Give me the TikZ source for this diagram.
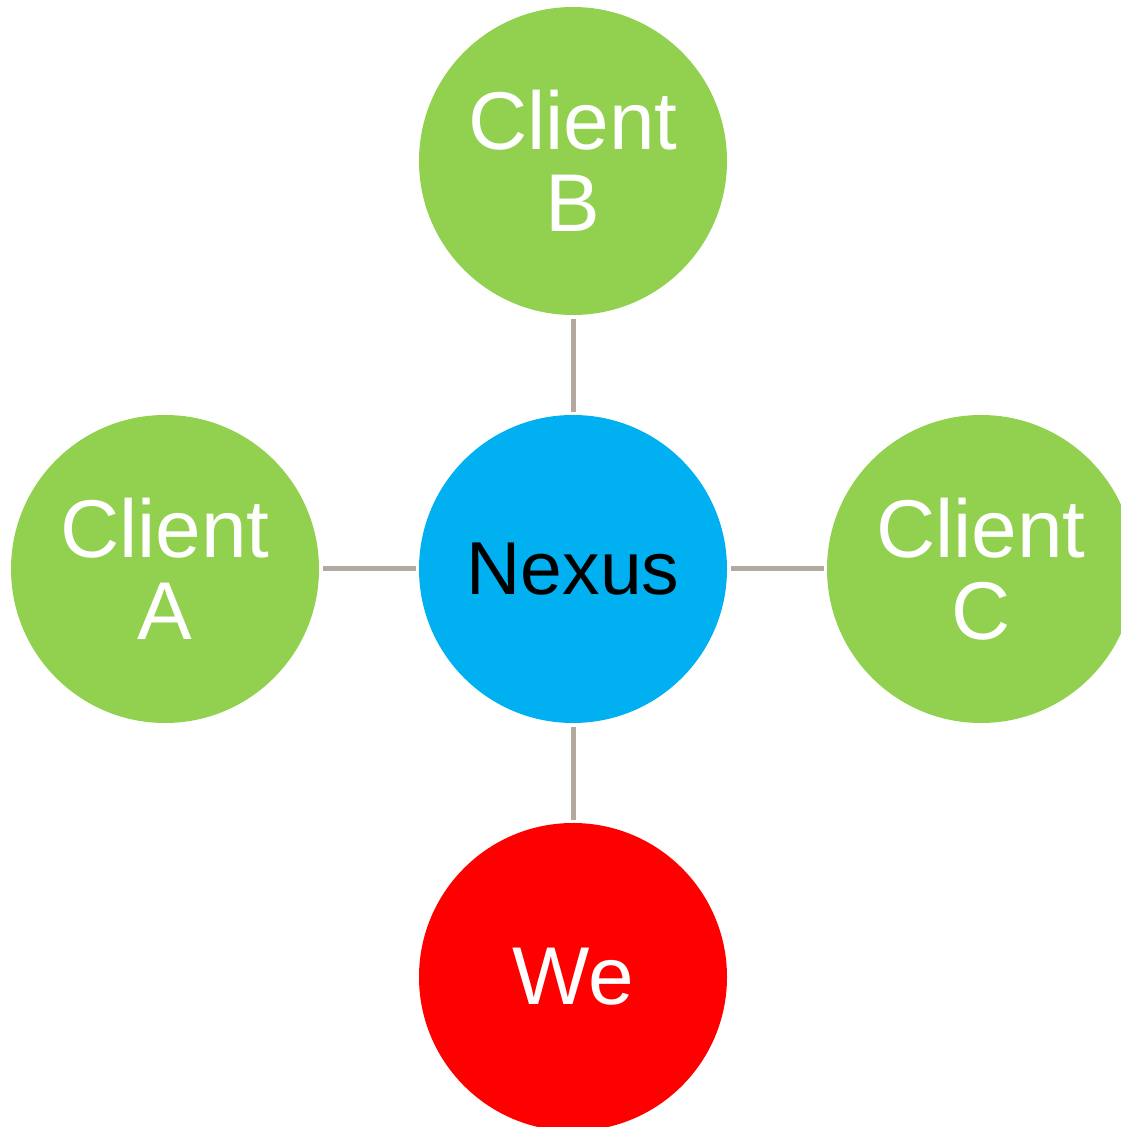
\documentclass[tikz,border=0pt]{standalone}
\usepackage{fontspec}
\setmainfont{Liberation Sans}
\definecolor{clientgreen}{RGB}{146,208,80}
\definecolor{nexusblue}{RGB}{0,176,240}
\definecolor{linkgray}{RGB}{178,170,160}
\tikzset{
  bubble/.style={circle, minimum size=308pt, inner sep=0pt, align=center,
    font=\fontsize{82}{84}\selectfont},
  client/.style={bubble, fill=clientgreen, text=white},
  link/.style={linkgray, line width=5pt, shorten >=3pt, shorten <=4pt}
}
\begin{document}
\begin{tikzpicture}[x=1pt,y=1pt]
        % Cornice della figura
        \useasboundingbox (0,0) rectangle (1120,1127);

        % Cerchio centrale
        \node[bubble, fill=nexusblue, text=black, font=\fontsize{75}{80}\selectfont] (nexus) at (573,558) {Nexus};

        % Clienti attorno
        \node[client] (clientB) at (573,966) {Client\\[-2pt]B};
        \node[client] (clientA) at (165,558) {Client\\[-2pt]A};
        \node[client] (clientC) at (981,558) {Client\\[-2pt]C};

        % Noi, in basso
        \node[bubble, fill=red, text=white] (we) at (573,150) {We};

        % Collegamenti
        \draw[link] (clientB) -- (nexus);
        \draw[link] (clientA) -- (nexus);
        \draw[link] (nexus) -- (clientC);
        \draw[link] (nexus) -- (we);
\end{tikzpicture}
\end{document}
